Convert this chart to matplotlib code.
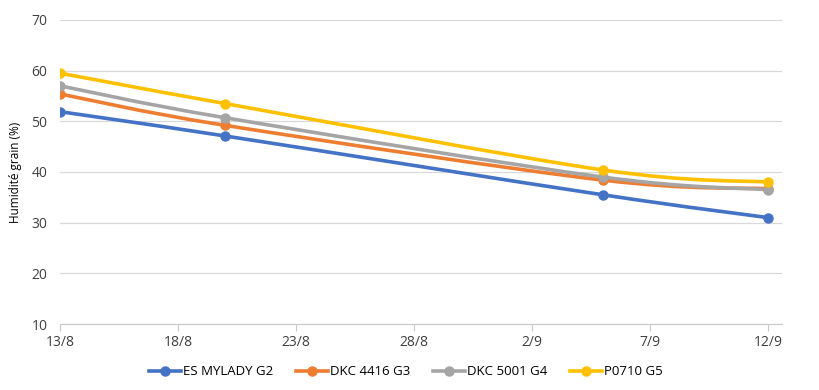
import datetime as dt

import matplotlib
matplotlib.use("Agg")
import matplotlib.pyplot as plt
import matplotlib.dates as mdates
from matplotlib.lines import Line2D
from matplotlib.patches import PathPatch
from matplotlib.path import Path

plt.rcParams.update({
    "font.family": ["Open Sans", "DejaVu Sans"],
    "font.size": 10,
})

ANNEE = 2021
# dates des prelevements (jour/mois)
DATES = ["13/8", "20/8", "5/9", "12/9"]
XTICKS = ["13/8", "18/8", "23/8", "28/8", "2/9", "7/9", "12/9"]
YTICKS = [10, 20, 30, 40, 50, 60, 70]

VARIETES = ["ES MYLADY G2", "DKC 4416 G3", "DKC 5001 G4", "P0710 G5"]
ES_MYLADY = [51.9, 47.1, 35.5, 31.0]
DKC_4416 = [55.4, 49.2, 38.4, 36.7]
DKC_5001 = [57.0, 50.7, 39.0, 36.5]
P0710 = [59.5, 53.5, 40.4, 38.0]
SERIES = [ES_MYLADY, DKC_4416, DKC_5001, P0710]
COULEURS = ["#4472C4", "#ED7D31", "#A5A5A5", "#FFC000"]


def jour(s):
    j, m = s.split("/")
    return mdates.date2num(dt.date(ANNEE, int(m), int(j)))


def courbe_lissee(xs, ys):
    """Courbe type Excel (Bezier cubique passant par les points)."""
    pts = list(zip(xs, ys))
    pad = [pts[0]] + pts + [pts[-1]]
    verts = [pts[0]]
    codes = [Path.MOVETO]
    for i in range(1, len(pad) - 2):
        p0, p1, p2, p3 = pad[i - 1], pad[i], pad[i + 1], pad[i + 2]
        c1 = (p1[0] + (p2[0] - p0[0]) / 6, p1[1] + (p2[1] - p0[1]) / 6)
        c2 = (p2[0] - (p3[0] - p1[0]) / 6, p2[1] - (p3[1] - p1[1]) / 6)
        verts += [c1, c2, p2]
        codes += [Path.CURVE4] * 3
    return Path(verts, codes)


fig = plt.figure(figsize=(8.2, 3.9), dpi=100)
ax = fig.add_axes([0.073, 0.169, 0.881, 0.78])

x = [jour(d) for d in DATES]
for vals, c in zip(SERIES, COULEURS):
    ax.add_patch(PathPatch(courbe_lissee(x, vals), facecolor="none", edgecolor=c,
                           linewidth=2.6, capstyle="round", zorder=3))
    ax.plot(x, vals, "o", color=c, markersize=6.5, zorder=4)

xt = [jour(t) for t in XTICKS]
ax.set_xticks(xt)
ax.set_xticklabels(XTICKS)
ax.set_xlim(xt[0], xt[-1] + 0.6)
ax.set_yticks(YTICKS)
ax.set_ylim(YTICKS[0], YTICKS[-1])
ax.set_ylabel("Humidité grain (%)", fontsize=8.5, labelpad=7)

ax.grid(axis="y", color="#D9D9D9", linewidth=0.9)
ax.set_axisbelow(True)
for s in ["top", "right", "left"]:
    ax.spines[s].set_visible(False)
ax.spines["bottom"].set_color("#C8C8C8")
ax.tick_params(axis="y", length=0, pad=9, colors="#404040")
ax.tick_params(axis="x", length=5, color="#C8C8C8", pad=3, colors="#404040")
for lab in ax.get_xticklabels() + ax.get_yticklabels():
    lab.set_color("#404040")

handles = [Line2D([], [], color=c, linewidth=2.6, marker="o", markersize=6.5)
           for c in COULEURS]
fig.legend(handles, VARIETES, loc="lower center", ncol=4, frameon=False,
           bbox_to_anchor=(0.495, 0.0), handlelength=2.4, columnspacing=1.7,
           handletextpad=0.2, fontsize=9.5)

fig.savefig("out.png", dpi=100)
